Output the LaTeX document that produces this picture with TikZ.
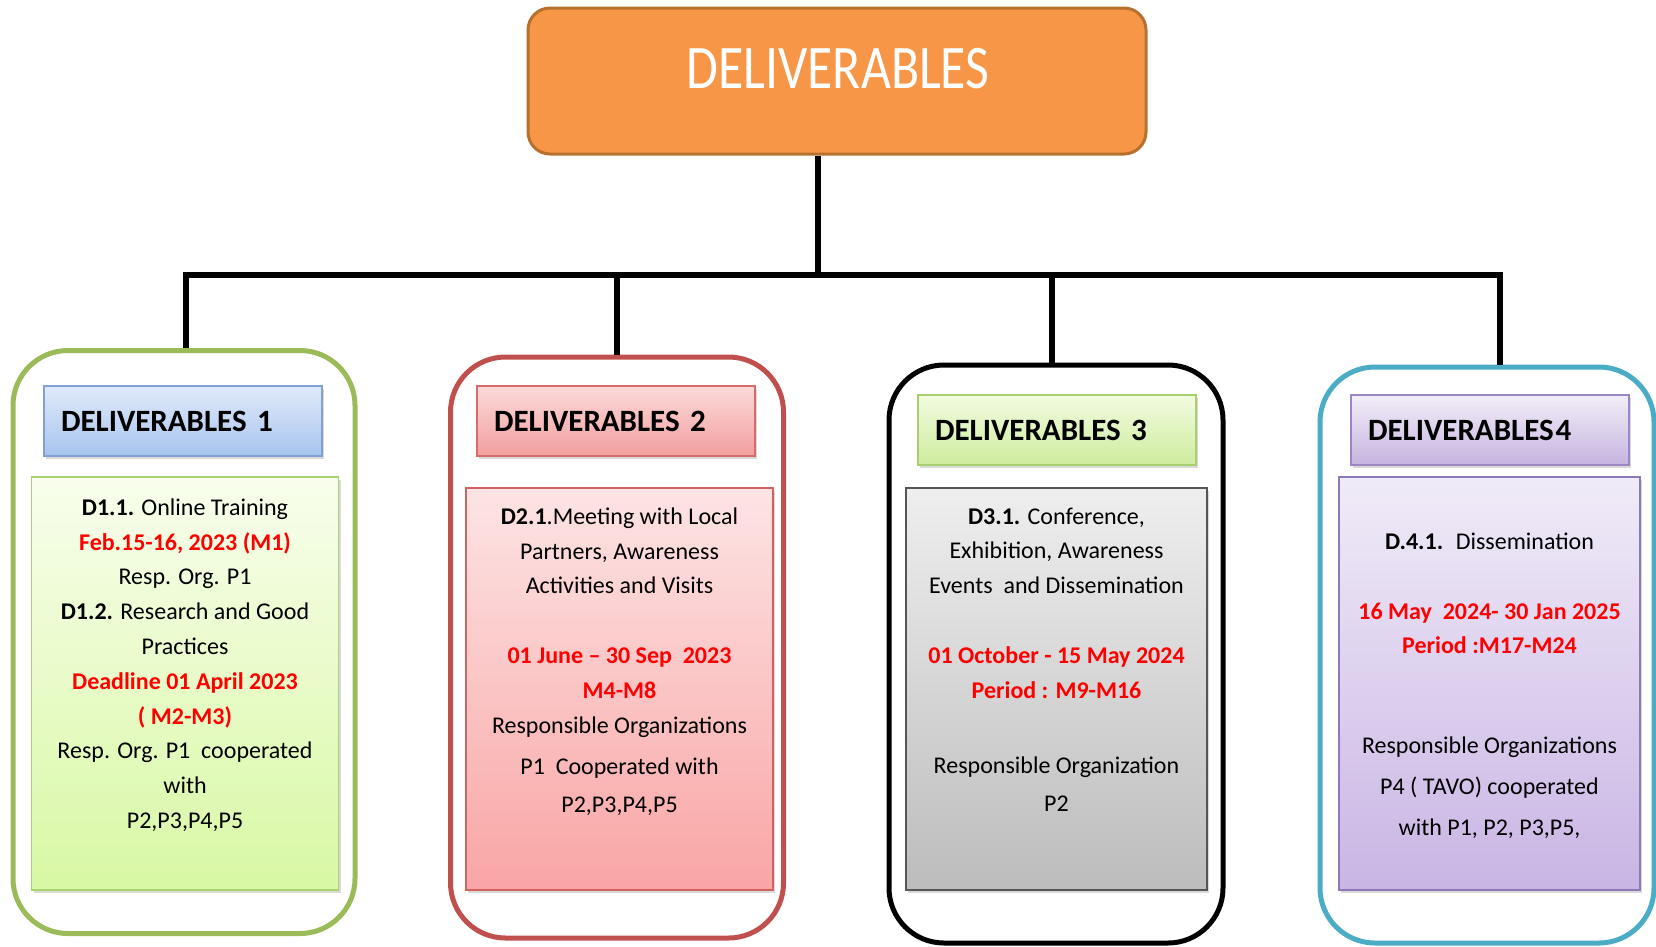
\documentclass[tikz,border=0pt]{standalone}
\usepackage{fontspec}
\setmainfont{Carlito}
\usetikzlibrary{positioning,shadows}

\definecolor{topfill}{HTML}{F79646}
\definecolor{topline}{HTML}{B8702F}
\definecolor{dgreen}{HTML}{9BBB59}
\definecolor{dred}{HTML}{C0504D}
\definecolor{dblue}{HTML}{4BACC6}
\definecolor{txtred}{HTML}{FF0000}

\tikzset{
  link/.style={line width=6pt, black},
  outerbox/.style={draw, line width=5pt, rounded corners=55pt, inner sep=0pt},
  shade box/.style={draw, line width=1.2pt, inner sep=0pt,
    drop shadow={shadow xshift=2pt, shadow yshift=-3pt, opacity=.3}},
  head/.style={shade box, text width=244pt, inner xsep=17pt, align=left,
    minimum height=70pt, font=\fontsize{31}{35}\selectfont\bfseries},
  body/.style={anchor=north, align=center, inner sep=0pt,
    font=\fontsize{24}{34.8}\selectfont}
}
\newcommand{\redtxt}[1]{\textcolor{txtred}{\textbf{#1}}}

\begin{document}
\begin{tikzpicture}[x=1pt, y=-1pt]
\useasboundingbox (0,0) rectangle (1656,946);

% top box
\node[draw=topline, fill=topfill, line width=3pt, rounded corners=22pt,
      minimum width=618pt, minimum height=146pt] (top) at (837,81) {};
\node[text=white, font=\fontsize{62}{70}\selectfont] (title) at (838,69)
      {\scalebox{0.835}[1]{DELIVERABLES}};

% outer frames
\node[outerbox, draw=dgreen, minimum width=342pt, minimum height=583pt] (o1) at (184,642) {};
\node[outerbox, draw=dred, minimum width=333pt, minimum height=581pt] (o2) at (617,647.5) {};
\node[outerbox, draw=black, minimum width=334pt, minimum height=578pt] (o3) at (1056,654) {};
\node[outerbox, draw=dblue, minimum width=334pt, minimum height=576pt] (o4) at (1487,655) {};

% connectors
\coordinate (hub) at (818,275);
\coordinate (d1) at ([xshift=2pt]o1.north);
\coordinate (d3) at ([xshift=-4pt]o3.north);
\coordinate (d4) at ([xshift=13pt]o4.north);
\draw[link] (hub |- top.south) -- (hub);
\draw[link] (d1) -- (d1 |- hub) -- (d4 |- hub) -- (d4);
\draw[link] (o2.north) -- (o2.north |- hub);
\draw[link] (d3) -- (d3 |- hub);

% headers
\node[head, draw={rgb,255:red,126;green,162;blue,214}, top color={rgb,255:red,224;green,234;blue,250}, bottom color={rgb,255:red,167;green,196;blue,238}] (h1) at (183,421) {DELIVERABLES 1};
\node[head, draw={rgb,255:red,214;green,108;blue,106}, top color={rgb,255:red,252;green,218;blue,218}, bottom color={rgb,255:red,242;green,158;blue,158}] (h2) at (616,421) {DELIVERABLES 2};
\node[head, draw={rgb,255:red,168;green,207;blue,110}, top color={rgb,255:red,242;green,251;blue,224}, bottom color={rgb,255:red,206;green,236;blue,158}] (h3) at (1057,430) {DELIVERABLES 3};
\node[head, draw={rgb,255:red,156;green,135;blue,194}, top color={rgb,255:red,242;green,238;blue,248}, bottom color={rgb,255:red,198;green,180;blue,224}] (h4) at (1490,430) {DELIVERABLES\kern2pt 4};

% content boxes
\node[shade box, draw={rgb,255:red,170;green,210;blue,110}, top color={rgb,255:red,248;green,254;blue,236}, bottom color={rgb,255:red,216;green,248;blue,164},
      minimum width=307pt, minimum height=413pt] (c1) at (185,683.5) {};
\node[shade box, draw={rgb,255:red,208;green,98;blue,98}, top color={rgb,255:red,253;green,228;blue,228}, bottom color={rgb,255:red,249;green,165;blue,165},
      minimum width=307pt, minimum height=402pt] (c2) at (619.5,689) {};
\node[shade box, draw={rgb,255:red,85;green,85;blue,85}, top color={rgb,255:red,238;green,238;blue,238}, bottom color={rgb,255:red,188;green,188;blue,188},
      minimum width=301pt, minimum height=402pt] (c3) at (1056.5,689) {};
\node[shade box, draw={rgb,255:red,142;green,121;blue,183}, top color={rgb,255:red,240;green,235;blue,248}, bottom color={rgb,255:red,201;green,181;blue,228},
      minimum width=301pt, minimum height=413pt] (c4) at (1489.5,683.5) {};

% texts
\node[body] (t1) at ([yshift=-22pt]c1.north) {%
  \textbf{D1.1.} Online Training\\
  \redtxt{Feb.15-16, 2023 (M1)}\\
  Resp. Org. P1\\
  \textbf{D1.2.} Research and Good\\
  Practices\\
  \redtxt{Deadline 01 April 2023}\\
  \redtxt{( M2-M3)}\\
  Resp. Org. P1~ cooperated\\
  with\\
  P2,P3,P4,P5};
\node[body] (t2) at ([yshift=-20pt]c2.north) {%
  \textbf{D2.1}.Meeting with Local\\
  Partners, Awareness\\
  Activities and Visits\\[35pt]
  \redtxt{01 June – 30 Sep~ 2023}\\
  \redtxt{M4-M8}\\
  Responsible Organizations\\[6pt]
  P1~ Cooperated with\\[4pt]
  P2,P3,P4,P5};
\node[body] (t3) at ([yshift=-20pt]c3.north) {%
  \textbf{D3.1.} Conference,\\
  Exhibition, Awareness\\
  Events~ and Dissemination\\[35pt]
  \redtxt{01 October - 15 May 2024}\\
  \redtxt{Period : M9-M16}\\[40pt]
  Responsible Organization\\[4pt]
  P2};
\node[body] (t4) at ([yshift=-56pt]c4.north) {%
  \textbf{D.4.1.}~ Dissemination\\[35pt]
  \redtxt{16 May~ 2024- 30 Jan 2025}\\
  \redtxt{Period :M17-M24}\\[65pt]
  Responsible Organizations\\[6pt]
  P4 ( TAVO) cooperated\\[6pt]
  with P1, P2, P3,P5,};

\end{tikzpicture}
\end{document}
